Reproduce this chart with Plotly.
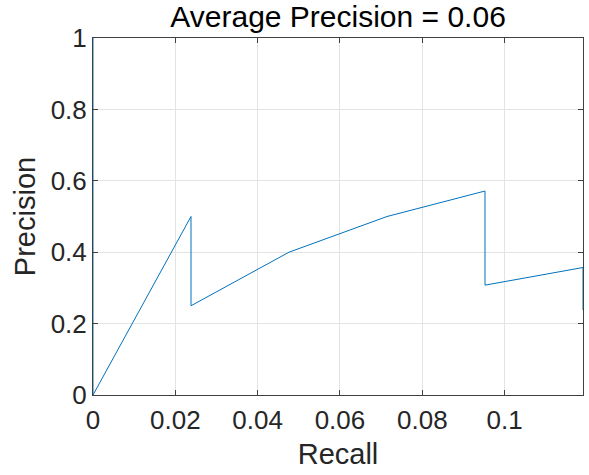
import plotly.graph_objects as go

recall = [0, 0, 1/42, 1/42, 2/42, 3/42, 4/42, 4/42, 5/42, 5/42]
precision = [1, 0, 1/2, 1/4, 2/5, 3/6, 4/7, 4/13, 5/14, 5/21]
x_ticks = [0, 0.02, 0.04, 0.06, 0.08, 0.1]
x_labels = ["0", "0.02", "0.04", "0.06", "0.08", "0.1"]
y_ticks = [0, 0.2, 0.4, 0.6, 0.8, 1]
y_labels = ["0", "0.2", "0.4", "0.6", "0.8", "1"]

FONT = "Liberation Sans, Arial, sans-serif"

fig = go.Figure()
fig.add_trace(go.Scatter(x=recall, y=precision, mode="lines", cliponaxis=False,
                         line=dict(color="#0072BD", width=1), showlegend=False))

axis_common = dict(showline=True, linecolor="#404040", linewidth=1, mirror="ticks",
                   ticks="inside", ticklen=5, tickcolor="#404040", automargin=False,
                   showgrid=True, gridcolor="#E3E3E3", gridwidth=1, zeroline=False,
                   tickfont=dict(family=FONT, size=26, color="#262626"))

fig.update_layout(
    width=589, height=475,
    margin=dict(l=93, r=6, t=38, b=80),
    paper_bgcolor="white", plot_bgcolor="white",
    title=dict(text="Average Precision = 0.06", x=0.574, xanchor="center",
               y=1 - 16/475, yanchor="middle", yref="container",
               font=dict(family=FONT, size=30, color="black")),
    xaxis=dict(range=[0, 5/42], tickvals=x_ticks, ticktext=x_labels, ticklabelstandoff=2,
               title=dict(text="Recall", font=dict(family=FONT, size=29, color="#262626"), standoff=9),
               **axis_common),
    yaxis=dict(range=[0, 1], tickvals=y_ticks, ticktext=y_labels,
               title=dict(text="Precision", font=dict(family=FONT, size=29, color="#262626"), standoff=6),
               **axis_common),
)

fig.write_html("out.html", config={"displayModeBar": False},
               post_script="document.body.style.margin='0';")
